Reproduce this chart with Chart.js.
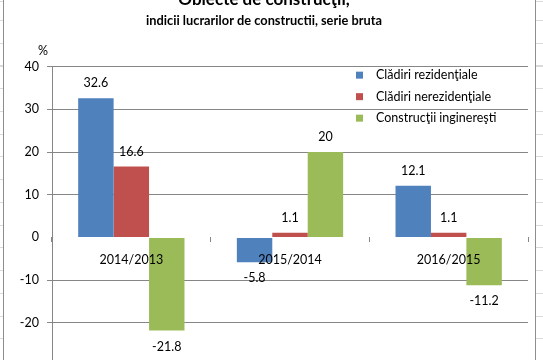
<!DOCTYPE html>
<html>
<head>
<meta charset="utf-8">
<script src="https://cdn.jsdelivr.net/npm/chart.js@4.4.1/dist/chart.umd.min.js"></script>
<style>
  html, body { margin: 0; padding: 0; width: 543px; height: 360px; overflow: hidden; }
  body {
    position: relative;
    background-color: #fff;
    background-image: repeating-linear-gradient(to bottom, #dadada 0, #dadada 1px, transparent 1px, transparent 22.75px);
    background-position: 0 20px;
  }
  #frame {
    position: absolute; left: 3px; top: -20px; width: 531px; height: 420px;
    background: #fff; border-left: 1px solid #8e8e8e; border-right: 1px solid #8e8e8e;
  }
  #grafic { position: absolute; left: 0; top: -20px; }
</style>
</head>
<body>
<div id="frame"></div>
<canvas id="grafic" width="543" height="420"></canvas>
<script>
// date
const categorii = ['2014/2013', '2015/2014', '2016/2015'];
const cladiriRezidentiale = [32.6, -5.8, 12.1];
const cladiriNerezidentiale = [16.6, 1.1, 1.1];
const constructiiIngineresti = [-21.8, 20, -11.2];
const numeSerii = ['Clădiri rezidenţiale', 'Clădiri nerezidenţiale', 'Construcţii inginereşti'];
const culori = ['#4f81bd', '#c0504d', '#9bbb59'];
const axaY = { min: -30, max: 40, pas: 10 };

const font = 'Lato';
const textColor = '#000';

// etichetele cu valori deasupra / sub bare
const eticheteValori = {
  id: 'eticheteValori',
  afterDatasetsDraw(chart) {
    const ctx = chart.ctx;
    ctx.save();
    ctx.font = '12.5px ' + font;
    ctx.fillStyle = textColor;
    ctx.textAlign = 'center';
    ctx.textBaseline = 'middle';
    chart.data.datasets.forEach((ds, i) => {
      chart.getDatasetMeta(i).data.forEach((bar, j) => {
        const v = ds.data[j];
        const y = v >= 0 ? bar.y - 15 : bar.y + 16;
        ctx.fillText(String(v), bar.x, y);
      });
    });
    ctx.restore();
  }
};

// legenda in interiorul zonei graficului + simbolul %
const legendaInterna = {
  id: 'legendaInterna',
  afterDraw(chart) {
    const ctx = chart.ctx;
    const area = chart.chartArea;
    ctx.save();
    ctx.font = '12.5px ' + font;
    ctx.textBaseline = 'middle';
    ctx.textAlign = 'left';
    chart.data.datasets.forEach((ds, i) => {
      const y = area.top + 8.5 + i * 21.5;
      const x = area.right - 172;
      ctx.fillStyle = ds.backgroundColor;
      ctx.fillRect(x, y - 3.5, 7, 7);
      ctx.fillStyle = textColor;
      ctx.fillText(ds.label, x + 20, y);
    });
    ctx.textAlign = 'center';
    ctx.fillText('%', chart.scales.y.right - 9, area.top - 16);
    ctx.restore();
  }
};

const ctx = document.getElementById('grafic').getContext('2d');

const grafic = new Chart(ctx, {
  type: 'bar',
  data: {
    labels: categorii,
    datasets: [
      { label: numeSerii[0], data: cladiriRezidentiale, backgroundColor: culori[0] },
      { label: numeSerii[1], data: cladiriNerezidentiale, backgroundColor: culori[1] },
      { label: numeSerii[2], data: constructiiIngineresti, backgroundColor: culori[2] }
    ]
  },
  options: {
    responsive: false,
    animation: false,
    categoryPercentage: 0.67,
    barPercentage: 1,
    layout: { padding: { left: 0, right: 15, top: 0, bottom: 34.5 } },
    plugins: {
      legend: { display: false },
      tooltip: { enabled: false },
      title: {
        display: true,
        text: 'Obiecte de construcţii,',
        color: textColor,
        font: { family: font, size: 17, weight: 'bold', lineHeight: 1.2 },
        padding: { top: 9, bottom: 0 }
      },
      subtitle: {
        display: true,
        text: 'indicii lucrarilor de constructii, serie bruta',
        color: textColor,
        font: { family: font, size: 12.8, weight: 'bold', lineHeight: 1.2 },
        padding: { top: 3.9, bottom: 38 }
      }
    },
    scales: {
      x: {
        position: { y: 0 },
        grid: { drawOnChartArea: false, drawTicks: true, tickLength: 5, color: '#868686' },
        border: { display: false },
        // etichetele categoriilor peste bare
        ticks: { z: 1, color: textColor, font: { family: font, size: 12.5 }, padding: 10 }
      },
      y: {
        min: axaY.min,
        max: axaY.max,
        afterFit(scale) { scale.width = 52; },
        ticks: { stepSize: axaY.pas, color: textColor, font: { family: font, size: 12.5 }, padding: 8 },
        grid: {
          tickLength: 5,
          color: (c) => (c.tick && c.tick.value === 0 ? 'rgba(0,0,0,0)' : '#868686')
        },
        border: { display: true, color: '#868686' }
      }
    }
  },
  plugins: [eticheteValori, legendaInterna]
});
</script>
</body>
</html>
